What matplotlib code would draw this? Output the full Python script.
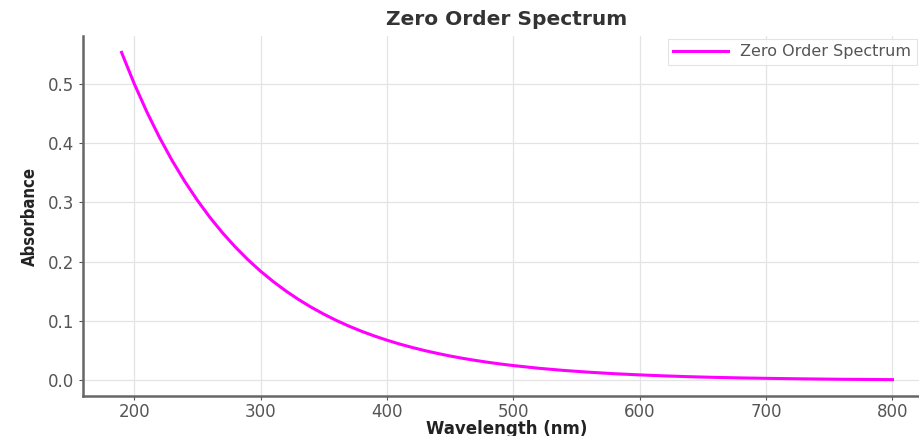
import matplotlib
matplotlib.use("Agg")
import matplotlib.pyplot as plt

# Data
wavelength = [190, 200, 210, 220, 230, 240, 250, 260, 270, 280, 290, 300,
              310, 320, 330, 340, 350, 360, 370, 380, 390, 400,
              410, 420, 430, 440, 450, 460, 470, 480, 490, 500,
              520, 540, 560, 580, 600, 620, 640, 660, 680, 700,
              730, 760, 800]
absorbance = [0.5526, 0.5000, 0.4524, 0.4094, 0.3704, 0.3352, 0.3033, 0.2744,
              0.2483, 0.2247, 0.2033, 0.1839, 0.1665, 0.1506, 0.1363, 0.1233,
              0.1116, 0.1009, 0.0913, 0.0826, 0.0748, 0.0677, 0.0612, 0.0554,
              0.0501, 0.0454, 0.0410, 0.0371, 0.0336, 0.0304, 0.0275, 0.0249,
              0.0204, 0.0167, 0.0137, 0.0112, 0.0092, 0.0075, 0.0061, 0.0050,
              0.0041, 0.0034, 0.0025, 0.0018, 0.0012]
series_label = "Zero Order Spectrum"
title = "Zero Order Spectrum"
xlabel = "Wavelength (nm)"
ylabel = "Absorbance"

fig = plt.figure(figsize=(9.2, 4.36), dpi=100)
ax = fig.add_axes([83/920, 40/436, (931-83)/920, (396-36)/436])

ax.plot(wavelength, absorbance, color="#ff00ff", lw=2.2, label=series_label)

ax.grid(True, color="#e4e4e4", lw=0.9)
ax.set_axisbelow(True)
for s in ("top", "right"):
    ax.spines[s].set_visible(False)
for s in ("left", "bottom"):
    ax.spines[s].set_color("#666666")
    ax.spines[s].set_linewidth(1.8)

ax.set_xticks([200, 300, 400, 500, 600, 700, 800])
ax.set_yticks([0.0, 0.1, 0.2, 0.3, 0.4, 0.5])
ax.tick_params(axis="both", colors="#555555", labelsize=12, length=3, width=0.8)
ax.tick_params(axis="x", pad=2)

ax.set_title(title, fontsize=14.5, fontweight="bold", color="#333333", pad=8)
ax.set_xlabel(xlabel, fontsize=12, fontweight="bold", color="#222222", labelpad=-1)
ax.set_ylabel(ylabel, fontsize=12, fontweight="bold", color="#222222",
              fontstretch="condensed", labelpad=6)

leg = ax.legend(loc="upper right", bbox_to_anchor=(0.9835, 0.992),
                fontsize=11.5, frameon=True, fancybox=False,
                edgecolor="#dddddd", labelcolor="#555555", handlelength=3.4,
                borderaxespad=0.0, borderpad=0.35)
leg.get_frame().set_linewidth(0.8)

fig.savefig("out.png", dpi=100)
